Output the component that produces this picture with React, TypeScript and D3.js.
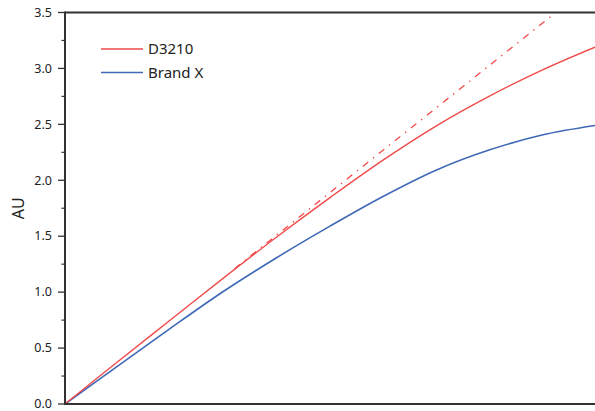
import React from "react";
import * as d3 from "d3";

const tValues = [0, 10, 20, 30, 40, 50, 60, 70, 80, 90, 100];
const d3210 = [0, 0.38, 0.755, 1.13, 1.495, 1.845, 2.18, 2.485, 2.75, 2.985, 3.19];
const brandX = [0, 0.34, 0.68, 1.01, 1.31, 1.59, 1.855, 2.09, 2.27, 2.405, 2.49];
const fitT = [32, 92.6];
const fitV = [1.21, 3.5];
const yTicks = [0, 0.5, 1, 1.5, 2, 2.5, 3, 3.5];
const yMinor = [0.25, 0.75, 1.25, 1.75, 2.25, 2.75, 3.25];
const seriesNames = ["D3210", "Brand X"];
const seriesColors = ["#f04a4a", "#3f69b6"];

export default function App() {
  const W = 595, H = 411;
  const x = d3.scaleLinear().domain([0, 100]).range([65, 595]);
  const y = d3.scaleLinear().domain([0, 3.5]).range([404, 12.5]);
  const line = d3
    .line<[number, number]>()
    .x((d) => x(d[0]))
    .y((d) => y(d[1]))
    .curve(d3.curveCatmullRom);
  const redPts = tValues.map((t, i) => [t, d3210[i]] as [number, number]);
  const bluePts = tValues.map((t, i) => [t, brandX[i]] as [number, number]);
  const fitPts = fitT.map((t, i) => [t, fitV[i]] as [number, number]);
  const font = "'Noto Sans', 'Open Sans', sans-serif";
  return (
    <svg
      width={W}
      height={H}
      style={{ position: "absolute", left: 0, top: 0, background: "#fff" }}
    >
      <path d={line(bluePts) || ""} fill="none" stroke={seriesColors[1]} strokeWidth={1.6} />
      <path d={line(redPts) || ""} fill="none" stroke={seriesColors[0]} strokeWidth={1.4} />
      <path
        d={d3.line<[number, number]>().x((d) => x(d[0])).y((d) => y(d[1]))(fitPts) || ""}
        fill="none"
        stroke={seriesColors[0]}
        strokeWidth={1.3}
        strokeDasharray="7,6,1.5,6"
      />
      {/* axes */}
      <line x1={65} x2={595} y1={12.5} y2={12.5} stroke="#333" strokeWidth={2} />
      <line x1={65} x2={595} y1={404} y2={404} stroke="#333" strokeWidth={2} />
      <line x1={65} x2={65} y1={11.5} y2={405} stroke="#333" strokeWidth={2} />
      {yTicks.map((v) => (
        <g key={"t" + v}>
          <line x1={58} x2={65} y1={y(v)} y2={y(v)} stroke="#333" strokeWidth={1.3} />
          <text
            x={52}
            y={y(v)}
            dy="0.34em"
            textAnchor="end"
            fontFamily={font}
            fontSize={12.5}
            fill="#222"
          >
            {d3.format(".1f")(v)}
          </text>
        </g>
      ))}
      {yMinor.map((v) => (
        <line key={"m" + v} x1={61.5} x2={65} y1={y(v)} y2={y(v)} stroke="#333" strokeWidth={1.2} />
      ))}
      <text
        transform={`translate(24,${y(1.75)}) rotate(-90)`}
        textAnchor="middle"
        fontFamily={font}
        fontSize={16}
        fill="#222"
      >
        AU
      </text>
      {/* legend */}
      {seriesNames.map((n, i) => (
        <g key={n}>
          <line
            x1={101}
            x2={143}
            y1={49 + i * 23.5}
            y2={49 + i * 23.5}
            stroke={seriesColors[i]}
            strokeWidth={1.6}
          />
          <text
            x={148}
            y={49 + i * 23.5}
            dy="0.36em"
            fontFamily={font}
            fontSize={15}
            fill="#222"
          >
            {n}
          </text>
        </g>
      ))}
    </svg>
  );
}
